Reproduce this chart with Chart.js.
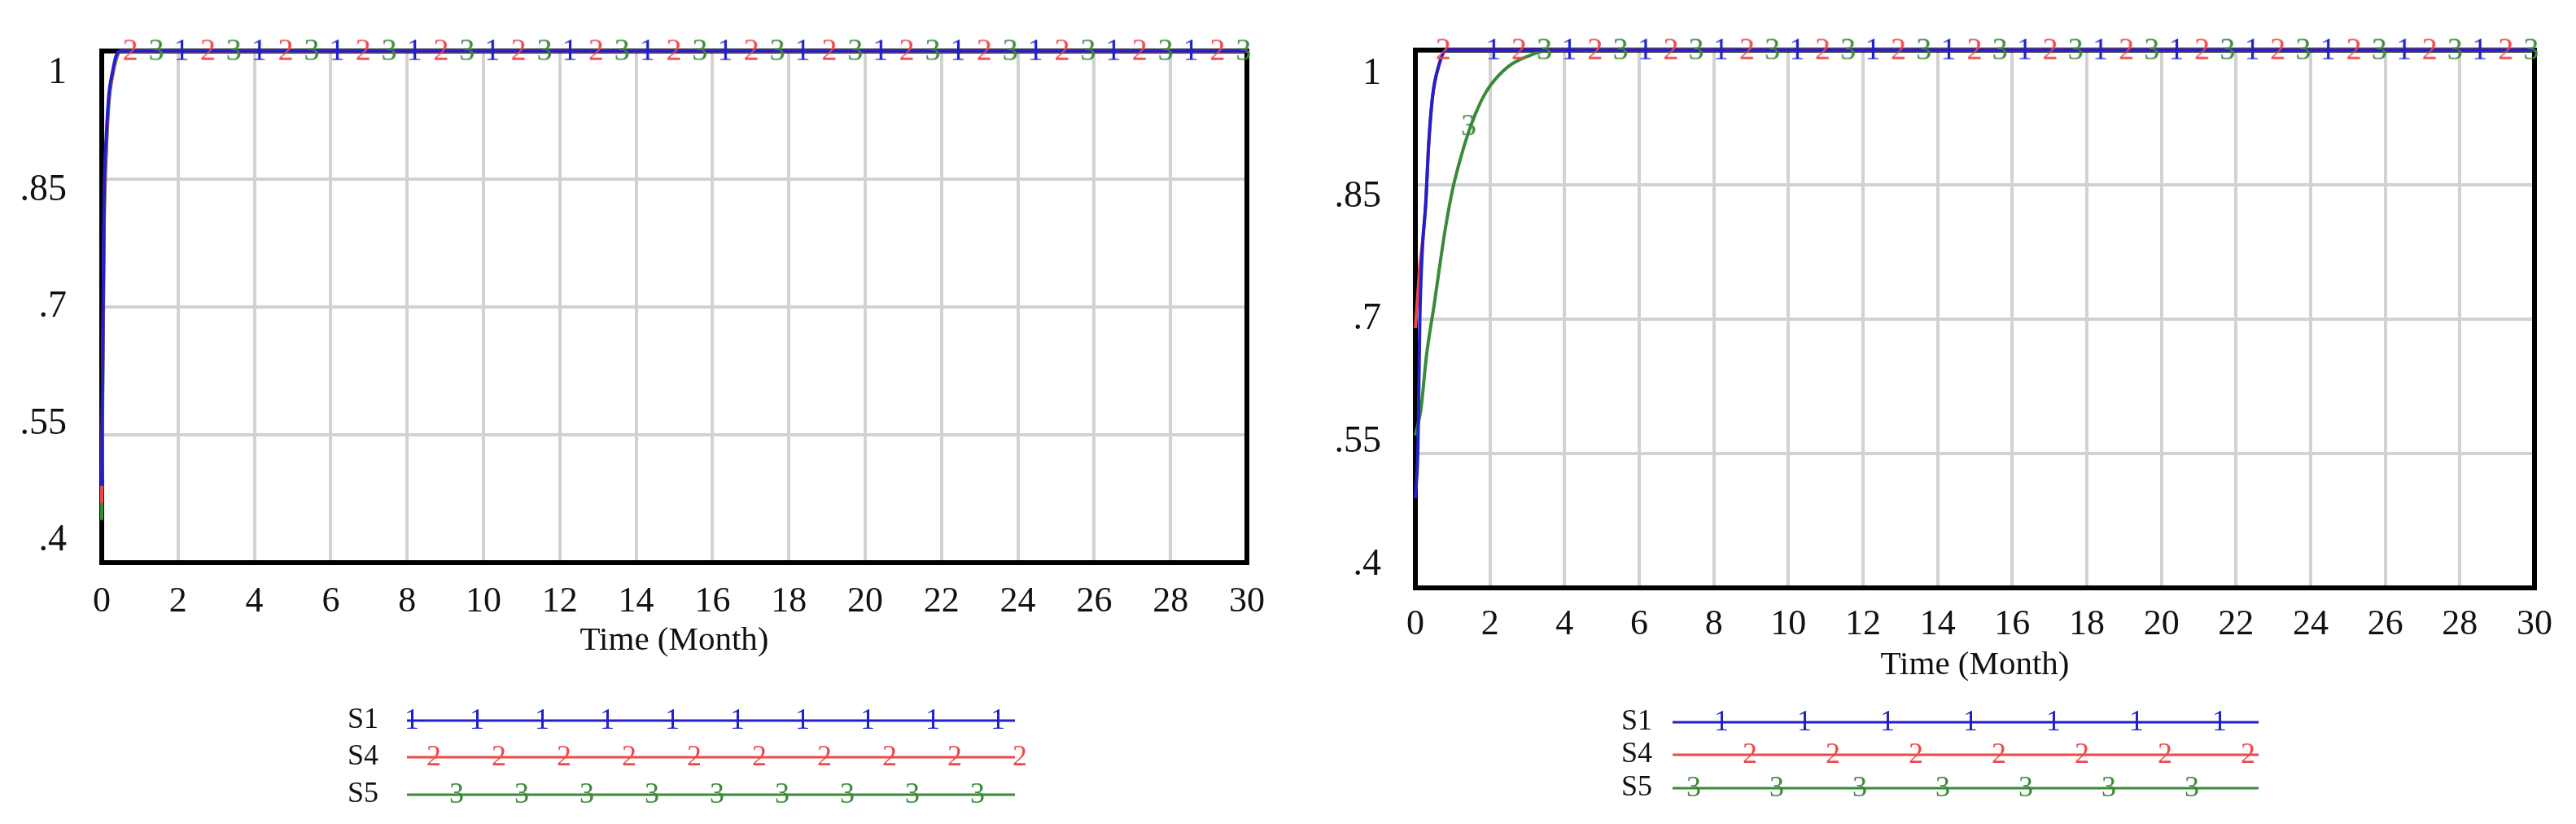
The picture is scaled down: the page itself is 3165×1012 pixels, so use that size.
<!DOCTYPE html>
<html>
<head>
<title>S1 S4 S5 over time</title>
<script src="https://cdn.jsdelivr.net/npm/chart.js"></script>
<style>
  body { margin: 0; background: #fff; }
  canvas { position: absolute; top: 0; }
  #left { left: 0; }
  #right { left: 1580px; }
</style>
</head>
<body>
<canvas id="left" width="1580" height="1012"></canvas>
<canvas id="right" width="1585" height="1012"></canvas>
<script>
// tick labels
const timeTicks = [0, 2, 4, 6, 8, 10, 12, 14, 16, 18, 20, 22, 24, 26, 28, 30];
const valueTicks = [0.4, 0.55, 0.7, 0.85, 1];

// left panel
const leftTime = [0, 0.06, 0.12, 0.19, 0.28, 0.38, 0.5, 30];
const leftS1 = [0.49, 0.82, 0.90, 0.95, 0.975, 0.995, 1, 1];
const leftS4 = [0.47, 0.80, 0.89, 0.945, 0.972, 0.993, 1, 1];
const leftS5 = [0.45, 0.78, 0.88, 0.94, 0.97, 0.99, 1, 1];

// right panel
const rightTimeFast = [0, 0.07, 0.12, 0.19, 0.28, 0.35, 0.46, 0.63, 0.83, 30];
const rightS1 = [0.50, 0.56, 0.70, 0.78, 0.83, 0.89, 0.948, 0.983, 1, 1];
const rightS4 = [0.69, 0.73, 0.76, 0.785, 0.83, 0.89, 0.948, 0.983, 1, 1];
const rightTimeSlow = [0, 0.15, 0.3, 0.5, 0.8, 1.0, 1.25, 1.48, 1.75, 2.0, 2.5, 3.0, 3.6, 30];
const rightS5 = [0.57, 0.60, 0.66, 0.715, 0.80, 0.845, 0.885, 0.915, 0.942, 0.96, 0.982, 0.993, 1, 1];

// times where the numbered markers sit on each line
const s1Marks = [2.09, 4.12, 6.16, 8.19, 10.23, 12.26, 14.29, 16.33, 18.36, 20.4, 22.43, 24.46, 26.5, 28.53];
const s4Marks = [0.75, 2.78, 4.82, 6.85, 8.89, 10.92, 12.95, 14.99, 17.02, 19.06, 21.09, 23.12, 25.16, 27.19, 29.23];
const s5Marks = [1.43, 3.46, 5.5, 7.53, 9.57, 11.6, 13.63, 15.67, 17.7, 19.74, 21.77, 23.8, 25.84, 27.87, 29.91];

const colors = { S1: '#2020cc', S4: '#ee4848', S5: '#3a8a3a' };
const serif = 'Liberation Serif';
const gridColor = '#d2d2d2';

function digitImage(digit, color) {
  const c = document.createElement('canvas');
  c.width = 30; c.height = 42;
  const g = c.getContext('2d');
  g.font = '38px "' + serif + '"';
  g.fillStyle = color;
  g.textAlign = 'center';
  g.textBaseline = 'middle';
  g.fillText(digit, 15, 22);
  return c;
}

// value of a series at the first sample at or after t
function valueAt(time, vals, t) {
  for (let i = 0; i < time.length; i++) {
    if (time[i] >= t) return vals[i];
  }
  return vals[vals.length - 1];
}

function fmtValue(v) {
  return v === 1 ? '1' : String(v).replace(/^0/, '');
}

const framePlugin = {
  id: 'frame',
  beforeDatasetsDraw(chart) {
    const { ctx, chartArea: a } = chart;
    ctx.save();
    ctx.strokeStyle = '#000';
    ctx.lineWidth = 6;
    ctx.strokeRect(a.left, a.top, a.right - a.left, a.bottom - a.top);
    ctx.restore();
  }
};

function legendPlugin(lay) {
  return {
    id: 'seriesLegend',
    afterDraw(chart) {
      const ctx = chart.ctx;
      ctx.save();
      lay.rows.forEach(r => {
        ctx.fillStyle = '#111';
        ctx.font = '36px "' + serif + '"';
        ctx.textAlign = 'right';
        ctx.textBaseline = 'middle';
        ctx.fillText(r.name, lay.labelRight, r.y);
        ctx.strokeStyle = colors[r.name];
        ctx.lineWidth = 3;
        ctx.beginPath();
        ctx.moveTo(lay.x0, r.y);
        ctx.lineTo(lay.x1, r.y);
        ctx.stroke();
        ctx.fillStyle = colors[r.name];
        ctx.textAlign = 'center';
        for (let k = 0; k < r.count; k++) {
          ctx.fillText(r.digit, r.start + k * r.step, r.y + 1);
        }
      });
      ctx.restore();
    }
  };
}

function buildChart(id, cfg) {
  const datasets = [];
  cfg.series.forEach((s, i) => {
    datasets.push({
      label: s.name,
      data: s.time.map((t, k) => ({ x: t, y: s.vals[k] })),
      borderColor: colors[s.name],
      borderWidth: 4,
      pointRadius: 0,
      cubicInterpolationMode: 'monotone',
      clip: false,
      order: 10 + i
    });
    datasets.push({
      label: s.name + ' markers',
      data: s.marks.map(t => ({ x: t, y: valueAt(s.time, s.vals, t) })),
      showLine: false,
      pointStyle: digitImage(s.digit, colors[s.name]),
      pointRadius: 12,
      clip: false,
      order: i
    });
  });

  new Chart(document.getElementById(id).getContext('2d'), {
    type: 'line',
    data: { datasets },
    options: {
      responsive: false,
      animation: false,
      events: [],
      layout: { padding: cfg.padding },
      plugins: { legend: { display: false }, tooltip: { enabled: false } },
      scales: {
        x: {
          type: 'linear', min: 0, max: 30,
          afterBuildTicks: s => { s.ticks = timeTicks.map(v => ({ value: v })); },
          grid: { color: gridColor, lineWidth: 4, drawTicks: false },
          border: { display: false },
          ticks: { font: { family: serif, size: 44 }, color: '#111', padding: cfg.xPad, maxRotation: 0, autoSkip: false },
          title: { display: true, text: 'Time (Month)', font: { family: serif, size: 41 }, color: '#111', padding: 0 },
          afterFit: s => { s.height = cfg.xHeight; }
        },
        y: {
          type: 'linear', position: 'left', min: 0.4, max: 1, weight: 0,
          afterBuildTicks: s => { s.ticks = valueTicks.map(v => ({ value: v })); },
          grid: { color: gridColor, lineWidth: 4, drawTicks: false },
          border: { display: false },
          ticks: { display: false },
          afterFit: s => { s.width = 0; }
        },
        // Vensim spreads its value labels slightly wider than the gridlines
        yLab: {
          type: 'linear', position: 'left', min: 0.372, max: 1.029, weight: 1,
          afterBuildTicks: s => { s.ticks = valueTicks.map(v => ({ value: v })); },
          grid: { display: false },
          border: { display: false },
          ticks: { font: { family: serif, size: 46 }, color: '#111', padding: cfg.yPad, callback: v => fmtValue(v) },
          afterFit: s => { s.width = cfg.yWidth; }
        }
      }
    },
    plugins: [framePlugin, legendPlugin(cfg.legend)]
  });
}

buildChart('left', {
  padding: { top: 41, right: 48, bottom: 200, left: 0 },
  xHeight: 121, xPad: 22, yWidth: 125, yPad: 35,
  series: [
    { name: 'S1', digit: '1', time: leftTime, vals: leftS1, marks: s1Marks },
    { name: 'S4', digit: '2', time: leftTime, vals: leftS4, marks: s4Marks },
    { name: 'S5', digit: '3', time: leftTime, vals: leftS5, marks: s5Marks }
  ],
  legend: {
    labelRight: 465, x0: 500, x1: 1247,
    rows: [
      { name: 'S1', digit: '1', y: 885, start: 506, step: 80, count: 10 },
      { name: 'S4', digit: '2', y: 930, start: 533, step: 80, count: 10 },
      { name: 'S5', digit: '3', y: 976, start: 561, step: 80, count: 9 }
    ]
  }
});

buildChart('right', {
  padding: { top: 38, right: 51, bottom: 170, left: 0 },
  xHeight: 120, xPad: 19, yWidth: 159, yPad: 34,
  series: [
    { name: 'S1', digit: '1', time: rightTimeFast, vals: rightS1, marks: s1Marks },
    { name: 'S4', digit: '2', time: rightTimeFast, vals: rightS4, marks: s4Marks },
    { name: 'S5', digit: '3', time: rightTimeSlow, vals: rightS5, marks: s5Marks }
  ],
  legend: {
    labelRight: 450, x0: 475, x1: 1195,
    rows: [
      { name: 'S1', digit: '1', y: 887, start: 535, step: 102, count: 7 },
      { name: 'S4', digit: '2', y: 927, start: 570, step: 102, count: 7 },
      { name: 'S5', digit: '3', y: 968, start: 501, step: 102, count: 7 }
    ]
  }
});
</script>
</body>
</html>
